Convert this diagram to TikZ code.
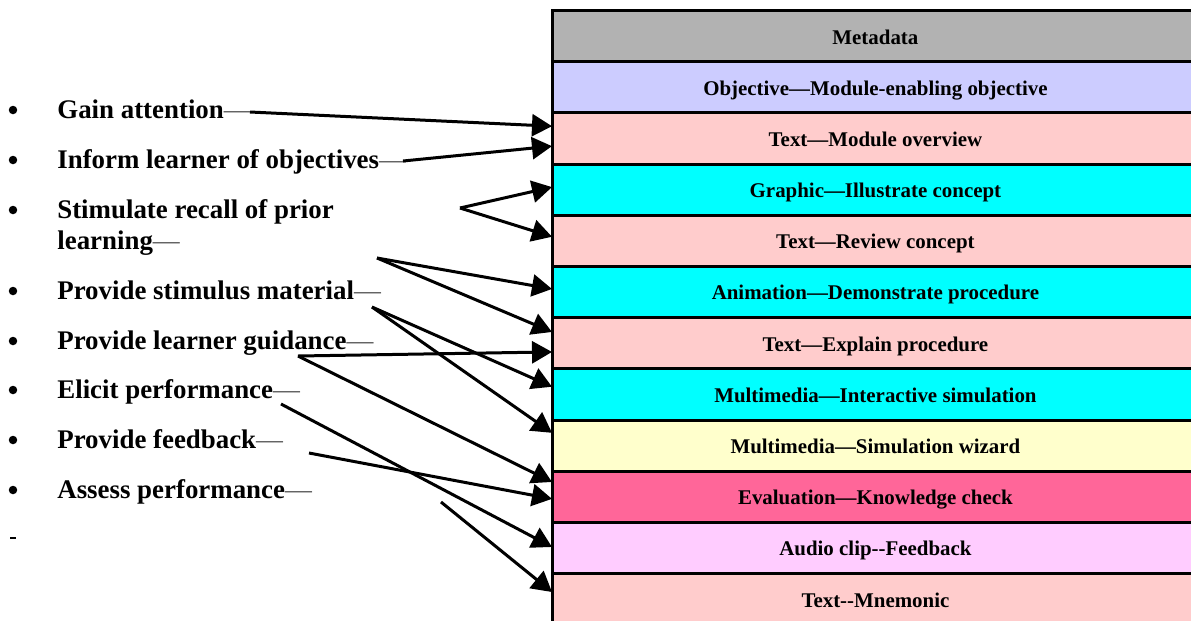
\documentclass[tikz,border=0pt]{standalone}
\usepackage{fontspec}
\setmainfont{Liberation Serif}
\usepackage{xcolor}
\definecolor{metagray}{RGB}{178,178,178}
\definecolor{objblue}{RGB}{204,204,255}
\definecolor{textpink}{RGB}{255,204,204}
\definecolor{mediacyan}{RGB}{0,255,255}
\definecolor{wizardyellow}{RGB}{255,255,204}
\definecolor{evalpink}{RGB}{255,102,153}
\definecolor{audiopink}{RGB}{255,204,255}
\definecolor{dashgray}{RGB}{90,90,90}
\usepackage{tikz}
\usetikzlibrary{positioning,arrows.meta,calc}

\begin{document}
\begin{tikzpicture}[x=0.02cm,y=-0.02cm,
  layer/.style={draw=black,line width=0.06cm,outer sep=0pt,inner sep=0pt,
        minimum width=12.94cm,minimum height=1.024cm,text height=9pt,text depth=0pt,
        font=\fontsize{11.9}{14}\selectfont\bfseries},
  event/.style={anchor=base west,inner sep=0pt,
        font=\fontsize{15.3}{18}\selectfont\bfseries},
  link/.style={line width=0.06cm,-{Triangle[length=0.4cm,width=0.44cm]}}]
  \useasboundingbox (0,0) rectangle (1191,620);
  \clip (0,0) rectangle (1191,620);

  \node[layer,fill=metagray,anchor=north west] (metadata) at (552,10.5) {Metadata};
  \node[layer,fill=objblue,below=0pt of metadata] (objective) {Objective—Module-enabling objective};
  \node[layer,fill=textpink,below=0pt of objective] (overview) {Text—Module overview};
  \node[layer,fill=mediacyan,below=0pt of overview] (illustrate) {Graphic—Illustrate concept};
  \node[layer,fill=textpink,below=0pt of illustrate] (review) {Text—Review concept};
  \node[layer,fill=mediacyan,below=0pt of review] (animation) {Animation—Demonstrate procedure};
  \node[layer,fill=textpink,below=0pt of animation] (explain) {Text—Explain procedure};
  \node[layer,fill=mediacyan,below=0pt of explain] (simulation) {Multimedia—Interactive simulation};
  \node[layer,fill=wizardyellow,below=0pt of simulation] (wizard) {Multimedia—Simulation wizard};
  \node[layer,fill=evalpink,below=0pt of wizard] (evaluation) {Evaluation—Knowledge check};
  \node[layer,fill=audiopink,below=0pt of evaluation] (audio) {Audio clip-\kern0pt-Feedback};
  \node[layer,fill=textpink,below=0pt of audio] (mnemonic) {Text-\kern0pt-Mnemonic};

  \node[event] (gain) at (57,118) {Gain attention{\mdseries\color{dashgray}—}};
  \node[event] (inform) at (57,168) {Inform learner of objectives{\mdseries\color{dashgray}—}};
  \node[event] (recall) at (57,218) {Stimulate recall of prior};
  \node[event] (learning) at (57,249) {learning{\mdseries\color{dashgray}—}};
  \node[event] (stimulus) at (57,299) {Provide stimulus material{\mdseries\color{dashgray}—}};
  \node[event] (guidance) at (57,349) {Provide learner guidance{\mdseries\color{dashgray}—}};
  \node[event] (elicit) at (57,398) {Elicit performance{\mdseries\color{dashgray}—}};
  \node[event] (feedback) at (57,448) {Provide feedback{\mdseries\color{dashgray}—}};
  \node[event] (assess) at (57,498) {Assess performance{\mdseries\color{dashgray}—}};
  \foreach \y in {110,160,210,291,341,390,440,490}
    \fill (13,\y) circle[radius=0.085cm];
  \fill (10,536.5) rectangle (16,539);

  \coordinate (gain-out) at (250,112);
  \coordinate (inform-out) at (403,161);
  \coordinate (recall-out) at (460,208);
  \coordinate (learning-out) at (377,258);
  \coordinate (stimulus-out) at (372,307);
  \coordinate (guidance-out) at (298,356);
  \coordinate (elicit-out) at (281,404);
  \coordinate (feedback-out) at (309,453);
  \coordinate (assess-out) at (441,502);

  \draw[link] (gain-out) -- ($(overview.north west)!0.26!(overview.south west)$);
  \draw[link] (inform-out) -- ($(overview.north west)!0.65!(overview.south west)$);
  \draw[link] (recall-out) -- ($(illustrate.north west)!0.45!(illustrate.south west)$);
  \draw[link] (recall-out) -- ($(review.north west)!0.42!(review.south west)$);
  \draw[link] (learning-out) -- ($(animation.north west)!0.44!(animation.south west)$);
  \draw[link] (learning-out) -- ($(explain.north west)!0.28!(explain.south west)$);
  \draw[link] (stimulus-out) -- ($(simulation.north west)!0.35!(simulation.south west)$);
  \draw[link] (stimulus-out) -- ($(wizard.north west)!0.25!(wizard.south west)$);
  \draw[link] (guidance-out) -- ($(explain.north west)!0.67!(explain.south west)$);
  \draw[link] (guidance-out) -- ($(evaluation.north west)!0.21!(evaluation.south west)$);
  \draw[link] (elicit-out) -- ($(audio.north west)!0.48!(audio.south west)$);
  \draw[link] (feedback-out) -- ($(evaluation.north west)!0.54!(evaluation.south west)$);
  \draw[link] (assess-out) -- ($(mnemonic.north west)!0.36!(mnemonic.south west)$);
\end{tikzpicture}
\end{document}
